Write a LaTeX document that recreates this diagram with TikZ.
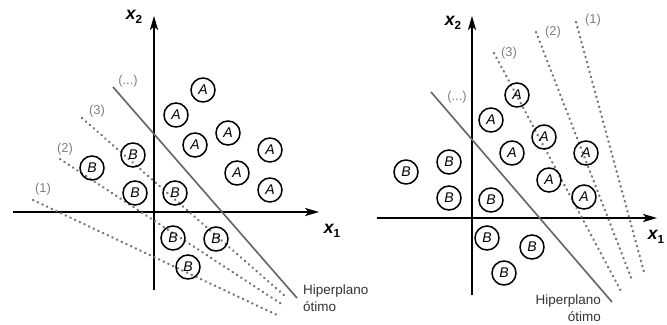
\documentclass[tikz,border=0pt]{standalone}
\usepackage{fontspec}
\setmainfont{Liberation Sans}
\usetikzlibrary{arrows.meta}

\tikzset{
    axis/.style={line width=1.3pt, -{Stealth[length=12pt, width=7pt, inset=3pt]}},
    optimo/.style={line width=1.4pt, black!60},
    margem/.style={line width=2pt, black!55, line cap=round, dash pattern=on 0.4pt off 4pt},
    pt/.style={circle, draw, line width=1.3pt, minimum size=20.5pt, inner sep=0pt,
        font=\fontsize{12}{12}\selectfont\itshape},
    rot/.style={text=black!50, font=\fontsize{11}{11}\selectfont},
    eixo/.style={font=\fontsize{15}{15}\selectfont\bfseries\itshape},
    hip/.style={text=black!80, font=\fontsize{11.5}{14.5}\selectfont, inner sep=0pt}
}
\newcommand{\sub}[1]{\raisebox{-0.45ex}{\fontsize{10}{10}\selectfont\upshape #1}}

\begin{document}
\begin{tikzpicture}[x=0.03cm, y=-0.03cm]
    \useasboundingbox (0,0) rectangle (667,324);

    % Left panel
    \draw[axis] (13,212) -- (319,212);
    \draw[axis] (154,290) -- (154,16);
    \node[eixo] (x2L) at (134,17) {x\sub{2}};
    \node[eixo] (x1L) at (332,231) {x\sub{1}};

    \draw[margem] (33,200) -- (277,315);
    \draw[margem] (60,159) -- (283,305);
    \draw[margem] (82,118) -- (285,296);
    \draw[optimo] (113,87) -- (297,298);
    \node[rot] (l1L) at (43,189) {(1)};
    \node[rot] (l2L) at (65,149) {(2)};
    \node[rot] (l3L) at (97,111) {(3)};
    \node[rot] (lnL) at (128,81) {(...)};
    \node[hip, align=left, anchor=west] (hipL) at (303,298) {Hiperplano\\ótimo};

    \node[pt] (a1L) at (203,90) {A};
    \node[pt] (a2L) at (176,115) {A};
    \node[pt] (a3L) at (228,133) {A};
    \node[pt] (a4L) at (195,145) {A};
    \node[pt] (a5L) at (270,150) {A};
    \node[pt] (a6L) at (237,173) {A};
    \node[pt] (a7L) at (270,190) {A};

    \node[pt] (b1L) at (92,168) {B};
    \node[pt] (b2L) at (133,155) {B};
    \node[pt] (b3L) at (135,193) {B};
    \node[pt] (b4L) at (175,193) {B};
    \node[pt] (b5L) at (173,238) {B};
    \node[pt] (b6L) at (216,239) {B};
    \node[pt] (b7L) at (188,267) {B};

    % Right panel
    \draw[axis] (377,218) -- (657,218);
    \draw[axis] (472,295) -- (472,16);
    \node[eixo] (x2R) at (453,23) {x\sub{2}};
    \node[eixo] (x1R) at (656,237) {x\sub{1}};

    \draw[margem] (576,22) -- (644,272);
    \draw[margem] (536,32) -- (632,280);
    \draw[margem] (494,53) -- (622,293);
    \draw[optimo] (431,92) -- (612,302);
    \node[rot] (l1R) at (593,20) {(1)};
    \node[rot] (l2R) at (553,32) {(2)};
    \node[rot] (l3R) at (509,53) {(3)};
    \node[rot] (lnR) at (457,97) {(...)};
    \node[hip, align=right, anchor=east] (hipR) at (601,308) {Hiperplano\\ótimo};

    \node[pt] (a1R) at (517,95) {A};
    \node[pt] (a2R) at (491,120) {A};
    \node[pt] (a3R) at (544,137) {A};
    \node[pt] (a4R) at (512,153) {A};
    \node[pt] (a5R) at (586,153) {A};
    \node[pt] (a6R) at (549,180) {A};
    \node[pt] (a7R) at (584,197) {A};

    \node[pt] (b1R) at (406,172) {B};
    \node[pt] (b2R) at (449,162) {B};
    \node[pt] (b3R) at (449,198) {B};
    \node[pt] (b4R) at (491,200) {B};
    \node[pt] (b5R) at (487,238) {B};
    \node[pt] (b6R) at (532,247) {B};
    \node[pt] (b7R) at (504,273) {B};
\end{tikzpicture}
\end{document}
